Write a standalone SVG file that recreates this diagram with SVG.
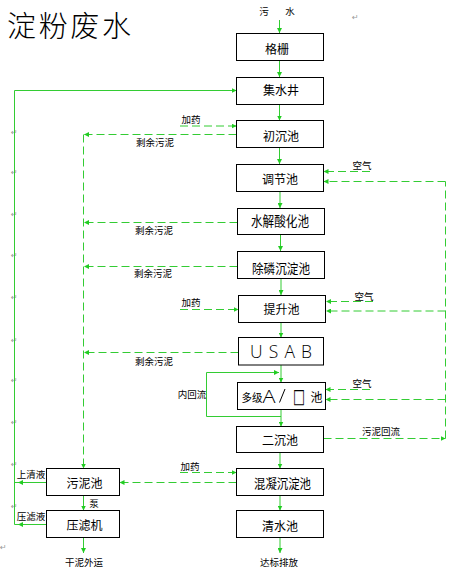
<svg xmlns="http://www.w3.org/2000/svg" width="460" height="572" viewBox="0 0 460 572">
<defs>
<marker id="ah" viewBox="0 0 6 6" refX="6" refY="3" markerWidth="5" markerHeight="5" markerUnits="userSpaceOnUse" orient="auto"><path d="M0,0 L6,3 L0,6 z" fill="#22cc22"/></marker>
<style>
.box{fill:#fff;stroke:#000;stroke-width:1}
.t{font-family:"Noto Sans CJK SC","Noto Sans",sans-serif;font-size:12px;fill:#000;text-anchor:middle}
.s{font-family:"Noto Sans CJK SC","Noto Sans",sans-serif;font-size:9.5px;fill:#000;text-anchor:middle}
.pm{font-family:"DejaVu Sans",sans-serif;font-size:8px;fill:#999}
.ln{fill:none;stroke:#33cc33;stroke-width:1}
.dl{fill:none;stroke:#33cc33;stroke-width:1;stroke-dasharray:8 4}
.thin{font-family:"Open Sans","Lato","Liberation Sans",sans-serif;font-weight:300;fill:#000}
</style>
</defs>
<rect width="460" height="572" fill="#fff"/>
<text x="7" y="37" style="font-family:'Noto Sans CJK SC',sans-serif;font-size:29px;font-weight:300" textLength="124">淀粉废水</text>
<g id="marks" class="pm">
<text x="352" y="20">↵</text>
<text x="11" y="135">↵</text><text x="11" y="175">↵</text><text x="11" y="217">↵</text><text x="11" y="258">↵</text><text x="11" y="300">↵</text><text x="11" y="343">↵</text><text x="11" y="383">↵</text><text x="11" y="425">↵</text><text x="11" y="467">↵</text><text x="11" y="509">↵</text>
<text x="0" y="550">↵</text>
</g>
<g id="connectors">
<line class="ln" x1="279.5" y1="20" x2="279.5" y2="33" marker-end="url(#ah)"/>
<line class="ln" x1="279.5" y1="60" x2="279.5" y2="77" marker-end="url(#ah)"/>
<line class="ln" x1="279.5" y1="104" x2="279.5" y2="120.5" marker-end="url(#ah)"/>
<line class="ln" x1="279.5" y1="147.5" x2="279.5" y2="164" marker-end="url(#ah)"/>
<line class="ln" x1="280" y1="191" x2="280" y2="208" marker-end="url(#ah)"/>
<line class="ln" x1="280.5" y1="234" x2="280.5" y2="251" marker-end="url(#ah)"/>
<line class="ln" x1="281" y1="278" x2="281" y2="295" marker-end="url(#ah)"/>
<line class="ln" x1="281" y1="322" x2="281" y2="337.5" marker-end="url(#ah)"/>
<line class="ln" x1="281" y1="365" x2="281" y2="382.5" marker-end="url(#ah)"/>
<line class="ln" x1="281" y1="409.5" x2="281" y2="426.5" marker-end="url(#ah)"/>
<line class="ln" x1="280" y1="452.5" x2="280" y2="468.5" marker-end="url(#ah)"/>
<line class="ln" x1="280" y1="495.5" x2="280" y2="510.5" marker-end="url(#ah)"/>
<line class="ln" x1="280" y1="537.5" x2="280" y2="553" marker-end="url(#ah)"/>
<path class="ln" d="M281,416.5 H206.5 V372.5 H279" marker-end="url(#ah)"/>
<path class="ln" d="M14.5,524.5 V90.5 H236.5" marker-end="url(#ah)"/>
<line class="ln" x1="46.5" y1="482.5" x2="18" y2="482.5" marker-end="url(#ah)"/>
<line class="ln" x1="18" y1="482.5" x2="14.5" y2="482.5"/>
<line class="ln" x1="46.5" y1="524.5" x2="18" y2="524.5" marker-end="url(#ah)"/>
<line class="ln" x1="18" y1="524.5" x2="14.5" y2="524.5"/>
<line class="ln" x1="83.5" y1="495.5" x2="83.5" y2="510.5" marker-end="url(#ah)"/>
<line class="ln" x1="83.5" y1="537.5" x2="83.5" y2="553" marker-end="url(#ah)"/>
<line class="dl" x1="180" y1="126" x2="236.5" y2="126" marker-end="url(#ah)"/>
<line class="dl" x1="180" y1="309.5" x2="238.5" y2="309.5" marker-end="url(#ah)"/>
<line class="dl" x1="180" y1="472.5" x2="236.5" y2="472.5" marker-end="url(#ah)"/>
<line class="dl" x1="236.5" y1="134.5" x2="84" y2="134.5" marker-end="url(#ah)"/>
<line class="dl" x1="237.5" y1="222.5" x2="84" y2="222.5" marker-end="url(#ah)"/>
<line class="dl" x1="237.5" y1="266.5" x2="84" y2="266.5" marker-end="url(#ah)"/>
<line class="dl" x1="238.5" y1="352.5" x2="84" y2="352.5" marker-end="url(#ah)"/>
<line class="dl" x1="83.5" y1="134.5" x2="83.5" y2="468.5" marker-end="url(#ah)"/>
<line class="dl" x1="236.5" y1="482.5" x2="119.5" y2="482.5" marker-end="url(#ah)"/>
<line class="dl" x1="370" y1="171.5" x2="323.5" y2="171.5" marker-end="url(#ah)"/>
<line class="dl" x1="373" y1="301.5" x2="326" y2="301.5" marker-end="url(#ah)"/>
<line class="dl" x1="370" y1="389.5" x2="325.5" y2="389.5" marker-end="url(#ah)"/>
<line class="dl" x1="323.5" y1="438.5" x2="445.5" y2="438.5" marker-end="url(#ah)"/>
<line class="dl" x1="445.5" y1="438.5" x2="445.5" y2="181.5"/>
<line class="dl" x1="445.5" y1="181.5" x2="323.5" y2="181.5" marker-end="url(#ah)"/>
<line class="dl" x1="445.5" y1="311" x2="326" y2="311" marker-end="url(#ah)"/>
<line class="dl" x1="445.5" y1="399.5" x2="325.5" y2="399.5" marker-end="url(#ah)"/>
</g>
<g id="labels">
<text class="s" x="264" y="15">污</text><text class="s" x="290" y="15">水</text>
<text class="s" x="191" y="123">加药</text>
<text class="s" x="155" y="146">剩余污泥</text>
<text class="s" x="362" y="169">空气</text>
<text class="s" x="154" y="234">剩余污泥</text>
<text class="s" x="153" y="277">剩余污泥</text>
<text class="s" x="191" y="306">加药</text>
<text class="s" x="364" y="300">空气</text>
<text class="s" x="154" y="365">剩余污泥</text>
<text class="s" x="192" y="398">内回流</text>
<text class="s" x="362" y="387">空气</text>
<text class="s" x="381" y="435">污泥回流</text>
<text class="s" x="190" y="470">加药</text>
<text class="s" x="31" y="478">上清液</text>
<text class="s" x="31" y="520">压滤液</text>
<text class="s" x="94" y="507">泵</text>
<text class="s" x="84" y="566">干泥外运</text>
<text class="s" x="279" y="566">达标排放</text>
</g>
<g id="n-geshan"><rect class="box" x="236.5" y="33.5" width="87" height="27"/><text class="t" x="277" y="53.5">格栅</text></g>
<g id="n-jishuijing"><rect class="box" x="236.5" y="77.5" width="87" height="27"/><text class="t" x="281" y="95">集水井</text></g>
<g id="n-chuchenchi"><rect class="box" x="236.5" y="120.5" width="87" height="27"/><text class="t" x="281" y="141">初沉池</text></g>
<g id="n-tiaojiechi"><rect class="box" x="236.5" y="164.5" width="87" height="27"/><text class="t" x="280" y="184">调节池</text></g>
<g id="n-shuijie"><rect class="box" x="237.5" y="208.5" width="87" height="26"/><text class="t" x="280" y="226" style="font-size:13.5px" textLength="58" lengthAdjust="spacingAndGlyphs">水解酸化池</text></g>
<g id="n-chulin"><rect class="box" x="237.5" y="251.5" width="87" height="27"/><text class="t" x="281" y="272.5" style="font-size:13px" textLength="58" lengthAdjust="spacingAndGlyphs">除磷沉淀池</text></g>
<g id="n-tisheng"><rect class="box" x="238.5" y="295.5" width="87" height="27"/><text class="t" x="281.5" y="314">提升池</text></g>
<g id="n-usab"><rect class="box" x="238.5" y="337.5" width="85" height="27.5"/><text class="thin" x="250" y="358.3" style="font-size:17.5px" textLength="62" lengthAdjust="spacing">USAB</text></g>
<g id="n-duoji"><rect class="box" x="237.5" y="382.5" width="88" height="27"/>
<text class="t" x="252" y="402" style="font-size:11px" textLength="21" lengthAdjust="spacingAndGlyphs">多级</text>
<text class="thin" x="262.5" y="402.5" style="font-size:19px" textLength="13" lengthAdjust="spacingAndGlyphs">A</text>
<line x1="285" y1="389" x2="279.5" y2="402.5" stroke="#000" stroke-width="1"/>
<text x="293" y="403" style="font-family:'DejaVu Sans',sans-serif;font-size:20px;fill:#000" textLength="12" lengthAdjust="spacingAndGlyphs">□</text>
<text class="t" x="316.5" y="402">池</text></g>
<g id="n-erchenchi"><rect class="box" x="236.5" y="426.5" width="87" height="26"/><text class="t" x="280" y="445">二沉池</text></g>
<g id="n-hunning"><rect class="box" x="236.5" y="468.5" width="87" height="27"/><text class="t" x="282.5" y="488" style="font-size:13px" textLength="57" lengthAdjust="spacingAndGlyphs">混凝沉淀池</text></g>
<g id="n-qingshuichi"><rect class="box" x="236.5" y="510.5" width="87" height="27"/><text class="t" x="280" y="531">清水池</text></g>
<g id="n-wunichi"><rect class="box" x="46.5" y="468.5" width="73" height="27"/><text class="t" x="84.5" y="488">污泥池</text></g>
<g id="n-yalvji"><rect class="box" x="46.5" y="510.5" width="73" height="27"/><text class="t" x="84.5" y="530">压滤机</text></g>
</svg>
